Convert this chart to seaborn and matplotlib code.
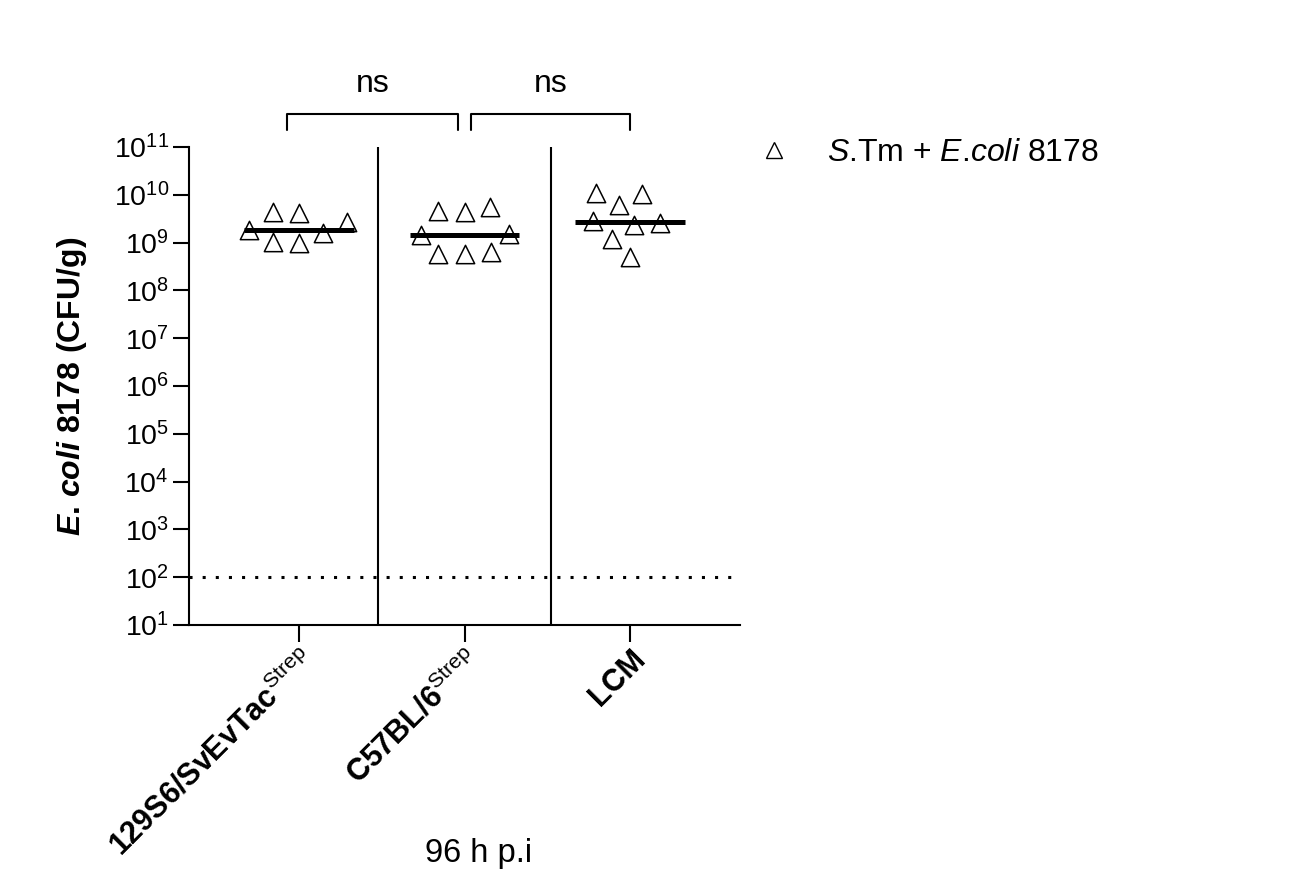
import numpy as np
import pandas as pd
import matplotlib
matplotlib.use("Agg")
import matplotlib.pyplot as plt
import matplotlib.transforms as mtransforms
from matplotlib.lines import Line2D
from matplotlib.ticker import LogLocator, LogFormatterSciNotation, NullLocator
import seaborn as sns

# ---------------- data ----------------
groups = ["129S6/SvEvTac", "C57BL/6", "LCM"]
tick_labels = [r"129S6/SvEvTac$^{\mathrm{Strep}}$", r"C57BL/6$^{\mathrm{Strep}}$", "LCM"]
cfu_129 = [2.7e9, 1.0e9, 1.8e9, 4.2e9, 1.05e9, 4.4e9, 1.6e9]
cfu_c57 = [4.6e9, 1.5e9, 5.8e8, 5.6e9, 6.4e8, 4.4e9, 1.45e9, 5.8e8]
cfu_lcm = [1.09e10, 2.6e9, 1.04e10, 2.8e9, 1.2e9, 5.0e8, 6.1e9, 2.3e9]
detection_limit = 1e2
series_label = r"$\mathit{S}$.Tm + $\mathit{E}$.$\mathit{coli}$ 8178"
x_label = "96 h p.i"
y_label = r"$\mathbfit{E}$. $\mathbfit{coli}$ 8178 (CFU/g)"
comparisons = ["ns", "ns"]

df = pd.DataFrame({
    "group": [groups[0]] * len(cfu_129) + [groups[1]] * len(cfu_c57) + [groups[2]] * len(cfu_lcm),
    "cfu": cfu_129 + cfu_c57 + cfu_lcm,
})

# ---------------- style ----------------
sns.set_style("ticks")
plt.rcParams["font.family"] = ["Liberation Sans", "DejaVu Sans"]
plt.rcParams["mathtext.fontset"] = "custom"
plt.rcParams["mathtext.rm"] = "Liberation Sans"
plt.rcParams["mathtext.it"] = "Liberation Sans:italic"
plt.rcParams["mathtext.bf"] = "Liberation Sans:bold"
plt.rcParams["mathtext.bfit"] = "Liberation Sans:italic:bold"
plt.rcParams["mathtext.default"] = "regular"
for k in ["text.color", "axes.labelcolor", "xtick.color", "ytick.color", "axes.edgecolor"]:
    plt.rcParams[k] = "black"

W, H = 1303, 893
fig = plt.figure(figsize=(W / 100, H / 100), dpi=100)
ax = fig.add_axes([189 / W, 1 - 625 / H, (740 - 189) / W, (625 - 147) / H])

# marker drawn smaller than its nominal size so the swarm spreads wider (Prism-like)
shrink = 0.78
n_before = len(ax.collections)
sns.swarmplot(data=df, x="group", y="cfu", order=groups, ax=ax, log_scale=True,
              marker="^", size=13.2 / shrink, color="white", edgecolor="black",
              linewidth=1.1, zorder=3, warn_thresh=1.0)
for coll in ax.collections[n_before:]:
    paths = coll.get_paths()
    coll.set_paths([p.transformed(mtransforms.Affine2D().scale(shrink)) for p in paths])

sns.boxplot(data=df, x="group", y="cfu", order=groups, ax=ax, width=0.66,
            showbox=False, showcaps=False, showfliers=False,
            whiskerprops={"visible": False},
            medianprops={"color": "black", "linewidth": 3.6, "zorder": 5})

ax.set_yscale("log")
ax.set_ylim(1e1, 1e11)
ax.set_xlim(-0.665, 2.665)
ax.yaxis.set_major_locator(LogLocator(base=10, numticks=20))
ax.yaxis.set_major_formatter(LogFormatterSciNotation())
ax.yaxis.set_minor_locator(NullLocator())

ax.axhline(detection_limit, color="black", lw=2.2, ls=(0, (1, 3.3)), zorder=2)
for xs in (0.48, 1.52):
    ax.axvline(xs, color="black", lw=1.5, zorder=2)

for s in ["top", "right"]:
    ax.spines[s].set_visible(False)
for s in ["left", "bottom"]:
    ax.spines[s].set_linewidth(1.5)

ax.tick_params(axis="y", length=11.5, width=1.5, labelsize=20.5, pad=3)
ax.tick_params(axis="x", length=12, width=1.5, pad=2)
ax.set_xticks(range(len(groups)))
ax.set_xticklabels(tick_labels, rotation=45, ha="right", va="top",
                   rotation_mode="anchor", fontsize=22, fontweight="bold")

ax.set_xlabel(x_label, fontsize=23.5)
ax.xaxis.set_label_coords((479 - 189) / 551, (625 - 838) / 478)
ax.set_ylabel(y_label, fontsize=23, fontweight="bold")
ax.yaxis.set_label_coords((89 - 189) / 551, 0.5)

# significance brackets
trans = mtransforms.blended_transform_factory(ax.transData, ax.transAxes)
bracket_spans = [(-0.07, 0.96), (1.04, 2.0)]
for (x1, x2), txt in zip(bracket_spans, comparisons):
    ax.plot([x1, x1, x2, x2], [1.036, 1.069, 1.069, 1.036], color="black", lw=1.5,
            transform=trans, clip_on=False)
    ax.text((x1 + x2) / 2, 1.1, txt, transform=trans, ha="center", va="bottom",
            fontsize=23)

handle = Line2D([], [], marker="^", ls="", markersize=11, markerfacecolor="white",
                markeredgecolor="black", markeredgewidth=1.0)
fig.legend(handles=[handle], labels=[series_label], loc="center left",
           bbox_to_anchor=(760 / W, 1 - 153 / H), frameon=False, fontsize=23,
           handlelength=0.85, handletextpad=1.25, borderpad=0, borderaxespad=0)

fig.savefig("out.png", dpi=100)
